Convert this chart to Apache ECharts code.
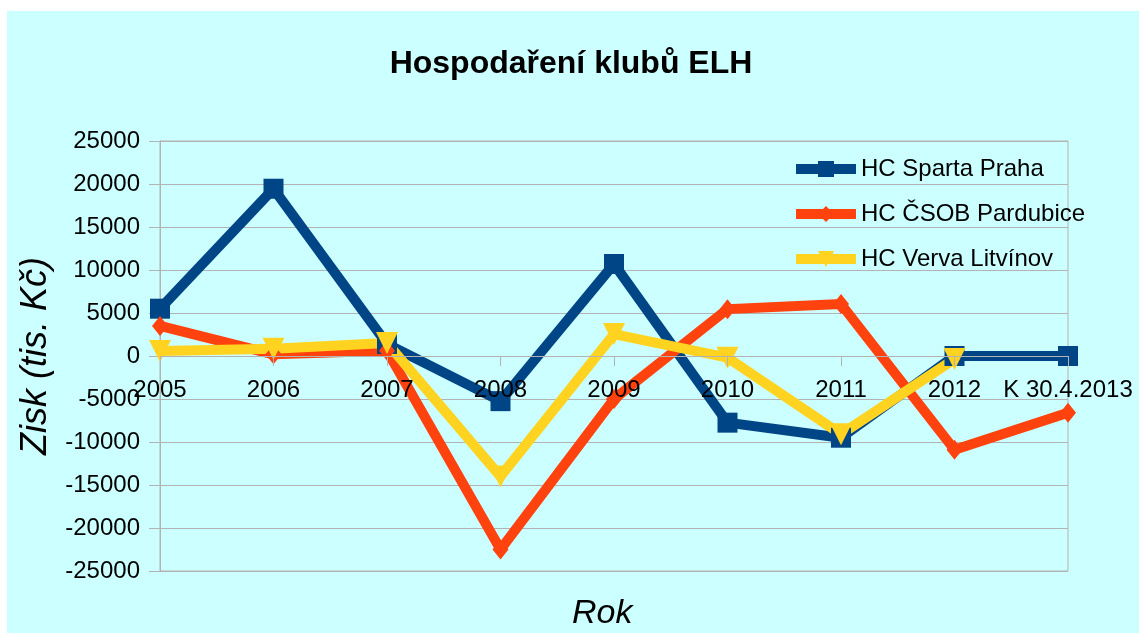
<!DOCTYPE html>
<html lang="cs">
<head>
    <meta charset="UTF-8">
    <title>Hospodaření klubů ELH</title>
    <script src="https://cdn.jsdelivr.net/npm/echarts@6/dist/echarts.min.js"></script>
    <style>
        body { margin: 0; background: #fff; }
    </style>
</head>
<body>
<div id="main" style="width:1142px;height:633px;"></div>
<script>
    var years = ['2005', '2006', '2007', '2008', '2009', '2010', '2011', '2012', 'K 30.4.2013'];
    var sparta = [5500, 19450, 1400, -5250, 10700, -7750, -9500, 0, 0];
    var pardubice = [3500, 200, 600, -22500, -5000, 5450, 6050, -10900, -6600];
    var litvinov = [580, 850, 1500, -14000, 2550, -200, -9100, -350];
    var yTicks = { min: -25000, max: 25000, step: 5000 };

    var myChart = echarts.init(document.getElementById('main'));
    var font = 'Liberation Sans, Arial, sans-serif';

    // plot is 430px tall from -25000 to 25000, so zero sits 215px above the bottom
    var zeroOffset = -430 * (0 - yTicks.min) / (yTicks.max - yTicks.min);

    var option = {
        backgroundColor: '#ffffff',
        color: ['#004586', '#ff420e', '#ffd320'],
        textStyle: { fontFamily: font },
        graphic: [{
            type: 'rect',
            z: -10,
            silent: true,
            shape: { x: 7, y: 11, width: 1132, height: 622 },
            style: { fill: '#ccffff' }
        }],
        title: [{
            text: 'Hospodaření klubů ELH',
            left: 'center',
            top: 43,
            textStyle: { fontFamily: font, fontSize: 32, fontWeight: 'bold', color: '#000' }
        }, {
            text: 'Rok',
            left: 567,
            top: 592,
            textStyle: { fontFamily: font, fontSize: 34, fontWeight: 'normal', fontStyle: 'italic', color: '#000' }
        }],
        legend: {
            orient: 'vertical',
            left: 786,
            top: 152,
            itemWidth: 60,
            itemHeight: 20,
            itemGap: 21,
            lineStyle: { width: 10 },
            textStyle: { fontFamily: font, fontSize: 24, color: '#000' },
            data: ['HC Sparta Praha', 'HC ČSOB Pardubice', 'HC Verva Litvínov']
        },
        grid: {
            left: 160, right: 74, top: 141, bottom: 62,
            show: true,
            borderColor: '#b3b3b3',
            borderWidth: 1
        },
        xAxis: {
            type: 'category',
            boundaryGap: false,
            data: years,
            z: 10,
            offset: zeroOffset,
            axisLine: { onZero: false, lineStyle: { color: '#b3b3b3', width: 1 } },
            axisTick: { show: true, length: 10, lineStyle: { color: '#b3b3b3' } },
            axisLabel: { fontFamily: font, fontSize: 24, color: '#000', margin: 22, interval: 0 },
            splitLine: { show: false }
        },
        yAxis: {
            type: 'value',
            min: yTicks.min,
            max: yTicks.max,
            interval: yTicks.step,
            name: 'Zisk (tis. Kč)',
            nameLocation: 'middle',
            nameGap: 82,
            nameTextStyle: { fontFamily: font, fontSize: 36, fontStyle: 'italic', color: '#000' },
            axisLine: { show: true, lineStyle: { color: '#b3b3b3', width: 1 } },
            axisTick: { show: true, length: 11, lineStyle: { color: '#b3b3b3' } },
            axisLabel: {
                fontFamily: font, fontSize: 24, color: '#000', margin: 20,
                formatter: function (v) { return String(v); }
            },
            splitLine: { lineStyle: { color: '#b3b3b3', width: 1 } }
        },
        series: [{
            name: 'HC Sparta Praha',
            type: 'line',
            data: sparta,
            symbol: 'rect',
            symbolSize: 20,
            lineStyle: { width: 10 },
            itemStyle: { color: '#004586' }
        }, {
            name: 'HC ČSOB Pardubice',
            type: 'line',
            data: pardubice,
            symbol: 'diamond',
            symbolSize: [16, 20],
            lineStyle: { width: 10 },
            itemStyle: { color: '#ff420e' }
        }, {
            name: 'HC Verva Litvínov',
            type: 'line',
            data: litvinov,
            symbol: 'triangle',
            symbolRotate: 180,
            symbolSize: 22,
            lineStyle: { width: 10 },
            itemStyle: { color: '#ffd320' }
        }]
    };
    myChart.setOption(option);
</script>
</body>
</html>
